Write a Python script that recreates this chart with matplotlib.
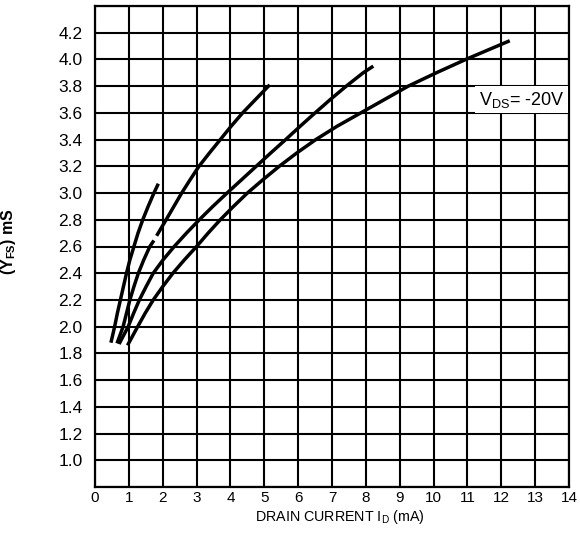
import numpy as np
import matplotlib
matplotlib.use("Agg")
import matplotlib.pyplot as plt

# ---------------- DATA ----------------
# drain current I_D (mA) and forward transfer admittance Y_FS (mS)
curve_a_id = [0.47, 0.58, 0.66, 0.75, 0.84, 0.93, 1.03, 1.15, 1.27, 1.41, 1.57, 1.74, 1.87]
curve_a_yfs = [1.88, 2.00, 2.10, 2.20, 2.30, 2.40, 2.50, 2.60, 2.70, 2.80, 2.90, 3.00, 3.07]

# curve b has a small break in the printed line near 2.65 mS
curve_b_id = [0.65, 0.83, 0.93, 1.03, 1.15, 1.28, 1.44, 1.62, 1.74, np.nan,
              1.82, 1.96, 2.10, 2.33, 2.56, 2.81, 3.07, 3.38, 3.70, 4.02, 4.36, 4.74, 5.16]
curve_b_yfs = [1.875, 2.00, 2.10, 2.20, 2.30, 2.40, 2.50, 2.60, 2.645, np.nan,
               2.68, 2.74, 2.80, 2.90, 3.00, 3.10, 3.20, 3.30, 3.40, 3.50, 3.60, 3.70, 3.81]

curve_c_id = [0.71, 0.98, 1.14, 1.31, 1.51, 1.72, 2.01, 2.34, 2.70, 3.08, 3.48, 3.90,
              4.33, 4.76, 5.19, 5.63, 6.06, 6.50, 6.95, 7.42, 7.92, 8.22]
curve_c_yfs = [1.87, 2.00, 2.10, 2.20, 2.30, 2.40, 2.50, 2.60, 2.70, 2.80, 2.90, 3.00,
               3.10, 3.20, 3.30, 3.40, 3.50, 3.60, 3.70, 3.80, 3.90, 3.95]

curve_d_id = [0.96, 1.26, 1.48, 1.72, 2.00, 2.30, 2.64, 3.00, 3.34, 3.70, 4.09, 4.50,
              4.96, 5.44, 5.96, 6.52, 7.15, 7.85, 8.55, 9.25, 10.08, 10.95, 12.25]
curve_d_yfs = [1.86, 2.00, 2.10, 2.20, 2.30, 2.40, 2.50, 2.60, 2.70, 2.80, 2.90, 3.00,
               3.10, 3.20, 3.30, 3.40, 3.50, 3.60, 3.70, 3.80, 3.90, 4.00, 4.14]

x_ticks = list(range(0, 15))
y_ticks = [0.8, 1.0, 1.2, 1.4, 1.6, 1.8, 2.0, 2.2, 2.4, 2.6, 2.8, 3.0,
           3.2, 3.4, 3.6, 3.8, 4.0, 4.2, 4.4]
y_tick_labels = ["", "1.0", "1.2", "1.4", "1.6", "1.8", "2.0", "2.2", "2.4", "2.6",
                 "2.8", "3.0", "3.2", "3.4", "3.6", "3.8", "4.0", "4.2", ""]

# ---------------- PLOT ----------------
plt.rcParams['font.family'] = ['Liberation Sans', 'DejaVu Sans']

fig = plt.figure(figsize=(5.8, 5.41), dpi=100)
ax = fig.add_axes([95 / 580, 1 - 487 / 541, (569 - 95) / 580, (487 - 6) / 541])

for xs, ys in [(curve_a_id, curve_a_yfs), (curve_b_id, curve_b_yfs),
               (curve_c_id, curve_c_yfs), (curve_d_id, curve_d_yfs)]:
    ax.plot(xs, ys, color='black', lw=2.5, solid_capstyle='butt',
            solid_joinstyle='round', zorder=3)

ax.set_xlim(0, 14)
ax.set_ylim(0.8, 4.4)
ax.set_xticks(x_ticks)
ax.set_yticks(y_ticks)
ax.set_yticklabels(y_tick_labels)
ax.tick_params(axis='both', length=0)
ax.tick_params(axis='x', labelsize=11, pad=3)
ax.tick_params(axis='y', labelsize=12.5, pad=9)
ax.set_axisbelow(True)
ax.grid(True, color='black', lw=1.5)
for sp in ax.spines.values():
    sp.set_linewidth(1.6)
    sp.set_color('black')

ax.set_xlabel(r'DRAIN CURRENT I$_{\mathregular{D}}$ (mA)', fontsize=10.3, va='top')
ax.xaxis.set_label_coords(0.517, -0.043)
ax.set_ylabel(r'(Y$_{\mathregular{FS}}$) mS', fontsize=11.5, fontweight='bold')
ax.yaxis.set_label_coords(-0.162, 0.51)

ax.text(11.33, 3.70, r'V$_{\mathregular{DS}}$= -20V', fontsize=13, ha='left', va='center',
        zorder=4, bbox=dict(boxstyle='square,pad=0.2', facecolor='white', edgecolor='none'))

fig.savefig('out.png', dpi=100)
